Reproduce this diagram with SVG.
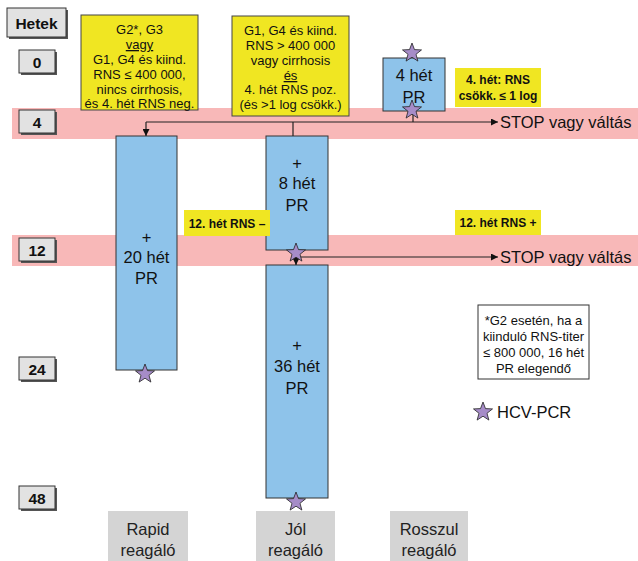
<svg xmlns="http://www.w3.org/2000/svg" width="638" height="561" viewBox="0 0 638 561">
<style>
text{font-family:"Liberation Sans",Arial,sans-serif;fill:#111}
.band{fill:#f8b8b8}
.wk{fill:#e2e2e2;stroke:#333;stroke-width:1}
.wks{fill:#555}
.wkt{font-size:15.5px;font-weight:bold;text-anchor:middle}
.yel{fill:#f0e622;stroke:#444;stroke-width:1}
.yeln{fill:#f0e622}
.yt{font-size:13px;text-anchor:middle}
.yb{font-size:12px;font-weight:bold;text-anchor:middle}
.blue{fill:#8ec3ea;stroke:#333;stroke-width:1}
.bt{font-size:16.5px;text-anchor:middle}
.gray{fill:#d4d4d4}
.gt{font-size:16.5px;text-anchor:middle;fill:#222}
.ln{stroke:#222;stroke-width:1.2;fill:none}
.star{fill:#a68cc8;stroke:#222;stroke-width:0.8}
.stop{font-size:16.5px}
</style>
<defs>
<marker id="ah" viewBox="0 0 10 10" refX="10" refY="5" markerWidth="7" markerHeight="7" markerUnits="userSpaceOnUse" orient="auto">
<path d="M0,0 L10,5 L0,10 z" fill="#111"/>
</marker>
<path id="st" d="M0,-10 L2.47,-3.4 L9.51,-3.09 L4.01,1.3 L5.88,8.09 L0,4.2 L-5.88,8.09 L-4.01,1.3 L-9.51,-3.09 L-2.47,-3.4 Z"/>
</defs>

<rect class="band" x="12" y="108" width="626" height="31"/>
<rect class="band" x="12" y="235" width="626" height="31"/>

<g id="week-hetek">
<rect class="wks" x="9" y="10" width="59" height="29"/>
<rect class="wk" x="7" y="8" width="59" height="29"/>
<text class="wkt" x="36.5" y="28.5">Hetek</text>
</g>
<g id="week-0">
<rect class="wks" x="21" y="52" width="36" height="23"/>
<rect class="wk" x="19" y="50" width="36" height="23"/>
<text class="wkt" x="37" y="67.5">0</text>
</g>
<g id="week-4">
<rect class="wks" x="21" y="112" width="36" height="23"/>
<rect class="wk" x="19" y="110" width="36" height="23"/>
<text class="wkt" x="37" y="127.5">4</text>
</g>
<g id="week-12">
<rect class="wks" x="21" y="240" width="36" height="23"/>
<rect class="wk" x="19" y="238" width="36" height="23"/>
<text class="wkt" x="37" y="255.5">12</text>
</g>
<g id="week-24">
<rect class="wks" x="21" y="359" width="36" height="23"/>
<rect class="wk" x="19" y="357" width="36" height="23"/>
<text class="wkt" x="37" y="374.5">24</text>
</g>
<g id="week-48">
<rect class="wks" x="21" y="488" width="36" height="23"/>
<rect class="wk" x="19" y="486" width="36" height="23"/>
<text class="wkt" x="37" y="503.5">48</text>
</g>

<g id="cond-rapid">
<rect class="yel" x="81" y="15" width="117" height="95"/>
<text class="yt" x="139.5" y="34">G2*, G3</text>
<text class="yt" x="139.5" y="49" text-decoration="underline">vagy</text>
<text class="yt" x="139.5" y="64">G1, G4 és kiind.</text>
<text class="yt" x="139.5" y="79">RNS ≤ 400 000,</text>
<text class="yt" x="139.5" y="94">nincs cirrhosis,</text>
<text class="yt" x="139.5" y="108">és 4. hét RNS neg.</text>
</g>
<g id="cond-jol">
<rect class="yel" x="232" y="16" width="117" height="100"/>
<text class="yt" x="290.5" y="35">G1, G4 és kiind.</text>
<text class="yt" x="290.5" y="50">RNS &gt; 400 000</text>
<text class="yt" x="290.5" y="65">vagy cirrhosis</text>
<text class="yt" x="290.5" y="80" text-decoration="underline">és</text>
<text class="yt" x="290.5" y="94">4. hét RNS poz.</text>
<text class="yt" x="290.5" y="109">(és &gt;1 log csökk.)</text>
</g>

<g id="pr-4het">
<rect class="blue" x="383" y="58" width="62" height="53"/>
<text class="bt" x="414" y="81">4 hét</text>
<text class="bt" x="414" y="103">PR</text>
</g>
<g id="label-4het-rns">
<rect class="yeln" x="455" y="68" width="86" height="39"/>
<text class="yb" x="498" y="84">4. hét: RNS</text>
<text class="yb" x="498" y="100">csökk. ≤ 1 log</text>
</g>

<g id="pr-20het">
<rect class="blue" x="116" y="136" width="61" height="234"/>
<text class="bt" x="146.5" y="243">+</text>
<text class="bt" x="146.5" y="263">20 hét</text>
<text class="bt" x="146.5" y="284">PR</text>
</g>
<g id="pr-8het">
<rect class="blue" x="266" y="136" width="62" height="114"/>
<text class="bt" x="297" y="169">+</text>
<text class="bt" x="297" y="189">8 hét</text>
<text class="bt" x="297" y="211">PR</text>
</g>
<g id="pr-36het">
<rect class="blue" x="266" y="265" width="62" height="233"/>
<text class="bt" x="297" y="351">+</text>
<text class="bt" x="297" y="372">36 hét</text>
<text class="bt" x="297" y="394">PR</text>
</g>

<g id="label-12het-neg">
<rect class="yeln" x="184" y="210" width="86" height="26"/>
<text class="yb" x="227" y="227.5">12. hét RNS –</text>
</g>
<g id="label-12het-pos">
<rect class="yeln" x="455" y="210" width="86" height="25"/>
<text class="yb" x="498" y="227">12. hét RNS +</text>
</g>

<g id="connectors">
<path class="ln" d="M413,111 L413,122"/>
<path class="ln" d="M146,122 L498,122" marker-end="url(#ah)"/>
<path class="ln" d="M146,122 L146,136" marker-end="url(#ah)"/>
<path class="ln" d="M293,122 L293,136"/>
<path class="ln" d="M296,257 L498,257" marker-end="url(#ah)"/>
<path class="ln" d="M296,257 L296,265" marker-end="url(#ah)"/>
</g>

<g id="stop-4">
<text class="stop" x="500" y="127.5">STOP vagy váltás</text>
</g>
<g id="stop-12">
<text class="stop" x="500" y="262.5">STOP vagy váltás</text>
</g>

<g id="stars">
<use href="#st" class="star" x="412" y="53"/>
<use href="#st" class="star" x="412" y="110"/>
<use href="#st" class="star" x="296" y="253"/>
<use href="#st" class="star" x="145" y="374"/>
<use href="#st" class="star" x="296" y="502"/>
</g>

<g id="note">
<rect x="478" y="305" width="111" height="74" fill="#fff" stroke="#333" stroke-width="1"/>
<text class="yt" x="533.5" y="325">*G2 esetén, ha a</text>
<text class="yt" x="533.5" y="341">kiinduló RNS-titer</text>
<text class="yt" x="533.5" y="357">≤ 800 000, 16 hét</text>
<text class="yt" x="533.5" y="373">PR elegendő</text>
</g>
<g id="legend">
<use href="#st" class="star" x="483" y="412"/>
<text class="stop" x="497" y="418">HCV-PCR</text>
</g>

<g id="resp-rapid">
<rect class="gray" x="108" y="511" width="80" height="50"/>
<text class="gt" x="148" y="535">Rapid</text>
<text class="gt" x="148" y="556">reagáló</text>
</g>
<g id="resp-jol">
<rect class="gray" x="256" y="511" width="79" height="50"/>
<text class="gt" x="295.5" y="535">Jól</text>
<text class="gt" x="295.5" y="556">reagáló</text>
</g>
<g id="resp-rosszul">
<rect class="gray" x="390" y="511" width="78" height="50"/>
<text class="gt" x="429" y="535">Rosszul</text>
<text class="gt" x="429" y="556">reagáló</text>
</g>
</svg>
